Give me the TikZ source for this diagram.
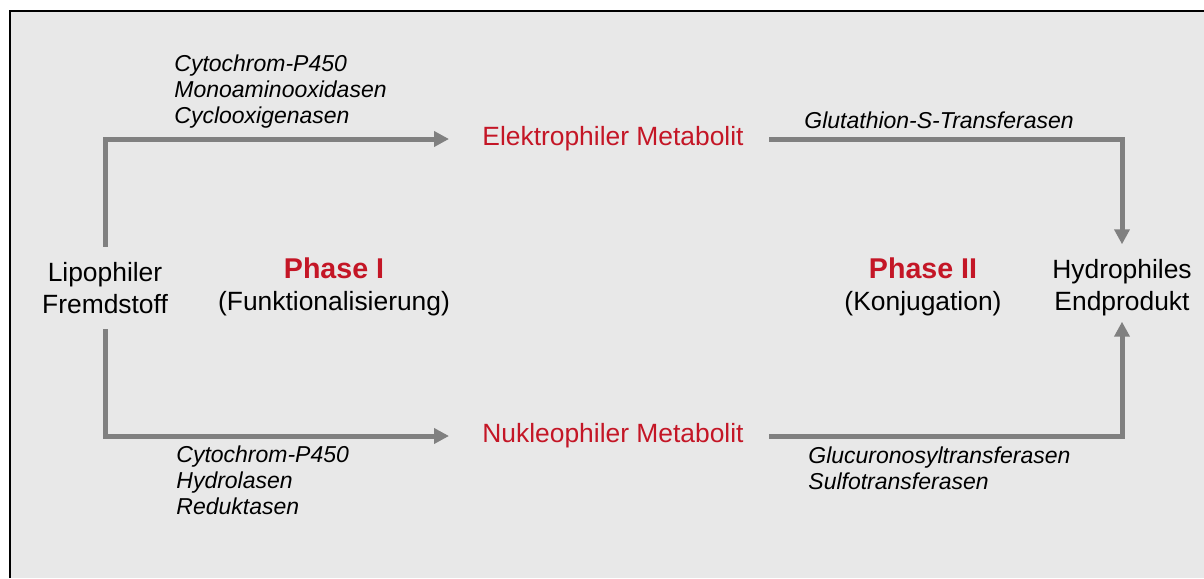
\documentclass[tikz,border=0pt]{standalone}
\usepackage{fontspec}
\setmainfont{Liberation Sans}
\definecolor{PanelGray}{RGB}{232,232,232}
\definecolor{ArrowGray}{RGB}{128,128,128}
\definecolor{PhaseRed}{RGB}{196,22,38}
\usetikzlibrary{arrows.meta,positioning}

\begin{document}
\begin{tikzpicture}[x=0.5pt,y=-0.5pt,
  txt/.style={align=center,font=\fontsize{13.2}{16}\selectfont,inner xsep=0pt,inner ysep=7.5pt},
  metab/.style={text=PhaseRed,font=\fontsize{13.2}{16}\selectfont,inner xsep=12.5pt},
  enzyme/.style={align=left,anchor=west,inner sep=0pt,font=\fontsize{11.5}{13}\selectfont\itshape},
  flow/.style={ArrowGray,line width=2.5pt,-{Triangle[length=7.5pt,width=7.5pt]}}]
\useasboundingbox (0,0) rectangle (1204,578);
\fill[PanelGray] (10,11) rectangle (1204,578);
\draw[line width=1pt] (9.5,578) -- (9.5,10.5) -- (1204,10.5);
% substances
\node[txt] (lipo) at (105,288) {Lipophiler\\Fremdstoff};
\node[txt] (hydro) at (1122,288) {Hydrophiles\\Endprodukt};
\node[metab] (elektro) at (613,139) {Elektrophiler Metabolit};
\node[metab] (nukleo) at (613,436) {Nukleophiler Metabolit};
% phases
\node[txt] (phase1) at (334,287) {{\fontsize{14.3}{16}\selectfont\bfseries\color{PhaseRed}Phase I}\\(Funktionalisierung)};
\node[txt] (phase2) at (923,287) {{\fontsize{14.3}{16}\selectfont\bfseries\color{PhaseRed}Phase II}\\(Konjugation)};
% enzymes
\node[enzyme] (enz1) at (174,92) {Cytochrom-P450\\Monoaminooxidasen\\Cyclooxigenasen};
\node[enzyme] (enz2) at (804,120) {Glutathion-S-Transferasen};
\node[enzyme] (enz3) at (176,480) {Cytochrom-P450\\Hydrolasen\\Reduktasen};
\node[enzyme] (enz4) at (808,468) {Glucuronosyltransferasen\\Sulfotransferasen};
% arrows
\draw[flow,shorten >=4pt] (lipo.north) |- (elektro.west);
\draw[flow,shorten >=4pt] (lipo.south) |- (nukleo.west);
\draw[flow] (elektro.east) -| (hydro.north);
\draw[flow,shorten >=-5pt] (nukleo.east) -| (hydro.south);
\end{tikzpicture}
\end{document}
